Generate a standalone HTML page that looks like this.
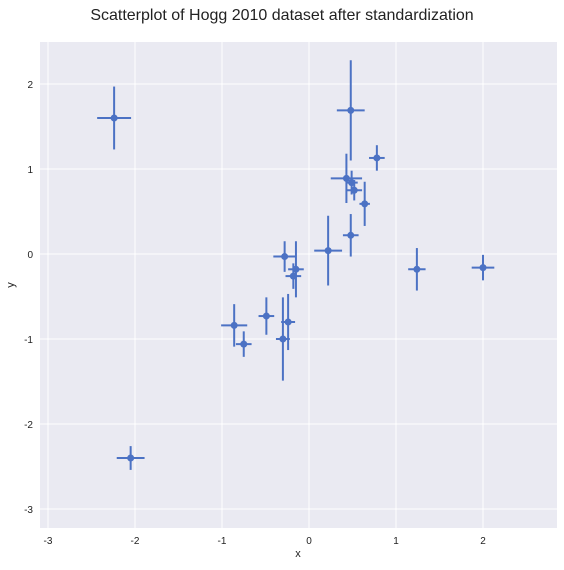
<!DOCTYPE html>
<html><head><meta charset="utf-8"><style>
body{margin:0;background:#fff;font-family:"Liberation Sans",sans-serif}
svg text{font-family:"Liberation Sans",sans-serif}
</style></head><body>
<svg id="chart" width="564" height="565">
<text x="282" y="20" text-anchor="middle" font-size="16" fill="#222">Scatterplot of Hogg 2010 dataset after standardization</text>
<rect x="40" y="42" width="517" height="486" fill="#eaeaf2"/>
<g id="grid"></g><g id="marks"></g>
<text x="298" y="557" text-anchor="middle" font-size="11" fill="#222">x</text>
<text x="14" y="285" text-anchor="middle" font-size="11" fill="#222" transform="rotate(-90 14 285)">y</text>
</svg>
<script>
const xs=[-2.24,-2.05,0.48,0.78,0.43,0.49,0.52,0.64,0.22,0.48,1.24,2.0,-0.28,-0.15,-0.18,-0.49,-0.86,-0.75,-0.24,-0.30];
const ys=[1.60,-2.40,1.69,1.13,0.89,0.84,0.75,0.59,0.04,0.22,-0.18,-0.16,-0.03,-0.18,-0.26,-0.73,-0.84,-1.06,-0.80,-1.00];
const xerr=[0.195,0.16,0.16,0.09,0.18,0.07,0.09,0.06,0.16,0.09,0.1,0.13,0.13,0.09,0.09,0.09,0.15,0.09,0.08,0.08];
const yerr=[0.37,0.14,0.59,0.15,0.29,0.14,0.12,0.26,0.41,0.25,0.25,0.15,0.18,0.33,0.15,0.22,0.25,0.15,0.33,0.49];
const xTicks=[-3,-2,-1,0,1,2];
const yTicks=[2,1,0,-1,-2,-3];
const X=v=>309+v*87, Y=v=>254-v*85;
const NS="http://www.w3.org/2000/svg";
function mk(p,t,a){const e=document.createElementNS(NS,t);for(const k in a)e.setAttribute(k,a[k]);p.appendChild(e);return e;}
const g=document.getElementById('grid'), m=document.getElementById('marks'), svg=document.getElementById('chart');
xTicks.forEach(t=>{
 const l=mk(g,'line',{x1:X(t),x2:X(t),y1:42,y2:528,stroke:'#fff','stroke-width':1});
 
 
 const tx=mk(svg,'text',{x:X(t),y:544,'text-anchor':'middle','font-size':10,fill:'#222'});
 tx.textContent=t;
 
 
});
yTicks.forEach(t=>{
 const l=mk(g,'line',{x1:40,x2:557,y1:Y(t),y2:Y(t),stroke:'#fff','stroke-width':1});
 
 
 const tx=mk(svg,'text',{x:33,y:Y(t)+4,'text-anchor':'end','font-size':10,fill:'#222'});
 tx.textContent=t;
 
 
});
const c='#4c72c4';
xs.forEach((x,i)=>{
 const gg=mk(m,'g',{});
 
 
 mk(gg,'line',{x1:X(x-xerr[i]),x2:X(x+xerr[i]),y1:Y(ys[i]),y2:Y(ys[i]),stroke:c,'stroke-width':2});
 mk(gg,'line',{x1:X(x),x2:X(x),y1:Y(ys[i]-yerr[i]),y2:Y(ys[i]+yerr[i]),stroke:c,'stroke-width':2});
 mk(gg,'circle',{cx:X(x),cy:Y(ys[i]),r:3.5,fill:c});
});
</script>
</body></html>
